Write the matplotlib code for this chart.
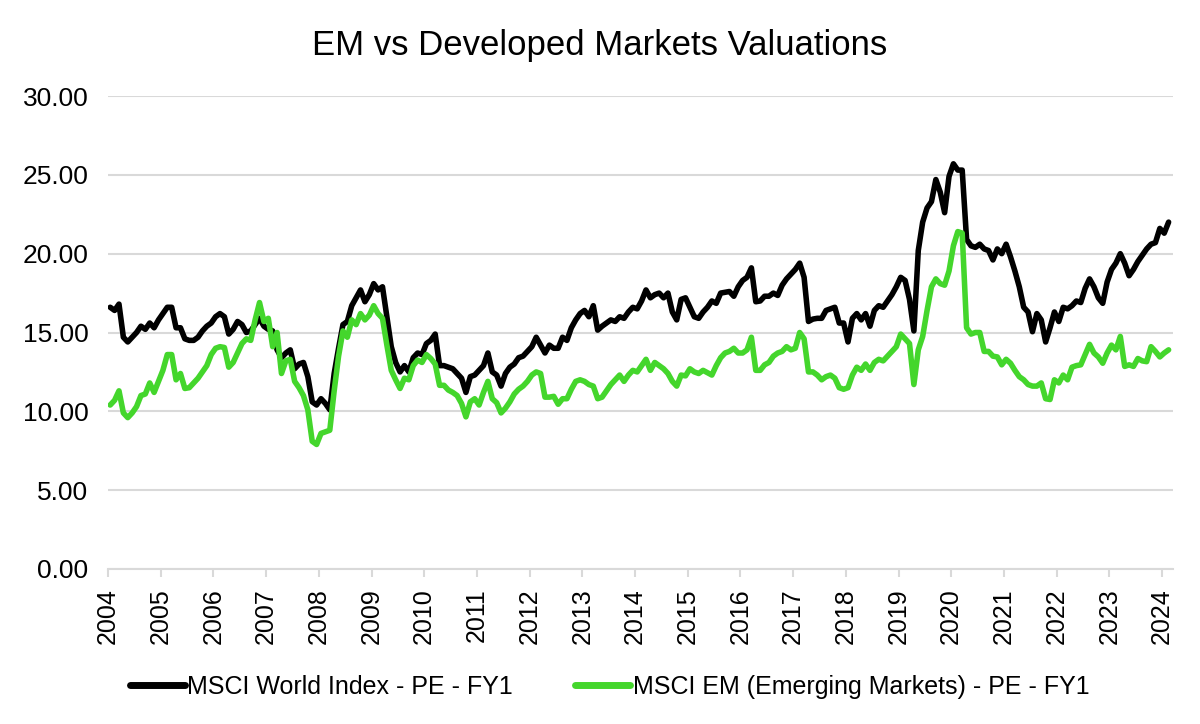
import matplotlib
matplotlib.use("Agg")
import matplotlib.pyplot as plt
import numpy as np

title = "EM vs Developed Markets Valuations"
series_names = ["MSCI World Index - PE - FY1", "MSCI EM (Emerging Markets) - PE - FY1"]
year_labels = [str(y) for y in range(2004, 2025)]
y_ticks = [0, 5, 10, 15, 20, 25, 30]

# Monthly values, Jan 2004 onward
world = [
    16.6, 16.4, 16.8, 14.7, 14.4, 14.7, 15.0, 15.4, 15.2, 15.6, 15.3, 15.8,
    16.2, 16.6, 16.6, 15.3, 15.3, 14.6, 14.5, 14.5, 14.7, 15.1, 15.4, 15.6,
    16.0, 16.2, 16.0, 14.9, 15.2, 15.7, 15.5, 15.0, 15.1, 15.5, 15.9, 15.4,
    15.2, 15.1, 13.9, 13.4, 13.7, 13.9, 12.7, 13.0, 13.1, 12.2, 10.6, 10.4,
    10.8, 10.5, 10.1, 12.4, 14.0, 15.5, 15.7, 16.7, 17.2, 17.7, 16.95, 17.4,
    18.1, 17.7, 17.9, 16.0, 14.1, 13.1, 12.5, 12.9, 12.5, 13.4, 13.7, 13.6,
    14.3, 14.5, 14.9, 12.9, 12.9, 12.8, 12.7, 12.4, 12.1, 11.2, 12.2, 12.3,
    12.6, 12.9, 13.7, 12.5, 12.3, 11.6, 12.4, 12.8, 13.0, 13.4, 13.5, 13.8,
    14.1, 14.7, 14.2, 13.7, 14.2, 14.0, 14.0, 14.7, 14.5, 15.3, 15.8, 16.2,
    16.4, 16.0, 16.7, 15.15, 15.4, 15.6, 15.8, 15.7, 16.0, 15.9, 16.3, 16.6,
    16.5, 17.0, 17.7, 17.2, 17.4, 17.5, 17.2, 17.5, 16.3, 15.8, 17.1, 17.2,
    16.6, 16.0, 15.9, 16.3, 16.6, 17.0, 16.85, 17.5, 17.55, 17.6, 17.3, 17.9,
    18.3, 18.5, 19.1, 16.95, 17.0, 17.3, 17.3, 17.5, 17.35, 18.0, 18.4, 18.7,
    19.0, 19.4, 18.5, 15.7, 15.85, 15.9, 15.9, 16.4, 16.5, 16.6, 15.6, 15.6,
    14.4, 15.9, 16.2, 15.8, 16.2, 15.4, 16.4, 16.7, 16.6, 17.0, 17.4, 17.9,
    18.5, 18.3, 17.1, 15.1, 20.2, 22.0, 22.9, 23.3, 24.7, 23.9, 22.6, 24.9,
    25.7, 25.3, 25.3, 20.9, 20.5, 20.4, 20.6, 20.3, 20.2, 19.6, 20.3, 20.0,
    20.6, 19.8, 18.9, 17.9, 16.6, 16.3, 15.05, 16.2, 15.8, 14.4, 15.3, 16.3,
    15.7, 16.6, 16.5, 16.7, 17.0, 16.9, 17.8, 18.4, 17.9, 17.2, 16.85, 18.2,
    19.0, 19.4, 20.0, 19.4, 18.6, 19.0, 19.5, 19.9, 20.3, 20.6, 20.7, 21.6,
    21.3, 22.0,
]

em = [
    10.4, 10.7, 11.3, 9.9, 9.6, 9.9, 10.3, 11.0, 11.1, 11.8, 11.2, 11.9,
    12.6, 13.6, 13.6, 12.0, 12.4, 11.45, 11.5, 11.8, 12.1, 12.5, 12.9, 13.6,
    14.0, 14.1, 14.05, 12.8, 13.1, 13.7, 14.3, 14.6, 14.5, 15.8, 16.9, 15.7,
    15.9, 14.1, 15.0, 12.4, 13.2, 13.3, 11.9, 11.5, 11.0, 10.1, 8.1, 7.9,
    8.6, 8.7, 8.8, 11.3, 13.5, 15.1, 14.7, 15.8, 15.5, 16.2, 15.8, 16.1,
    16.7, 16.2, 15.9, 14.2, 12.6, 12.0, 11.45, 12.1, 12.0, 12.9, 13.25, 13.1,
    13.6, 13.35, 13.0, 11.65, 11.65, 11.35, 11.2, 11.0, 10.5, 9.65, 10.6, 10.8,
    10.4, 11.2, 11.9, 10.8, 10.55, 9.9, 10.2, 10.6, 11.1, 11.4, 11.6, 11.9,
    12.3, 12.5, 12.4, 10.9, 10.9, 10.95, 10.45, 10.8, 10.8, 11.4, 11.9, 12.0,
    11.9, 11.7, 11.6, 10.8, 10.9, 11.3, 11.7, 12.0, 12.3, 11.9, 12.3, 12.6,
    12.5, 12.9, 13.3, 12.6, 13.1, 12.9, 12.7, 12.4, 11.9, 11.6, 12.3, 12.25,
    12.7, 12.5, 12.4, 12.6, 12.45, 12.3, 12.9, 13.4, 13.7, 13.8, 14.0, 13.7,
    13.7, 13.9, 14.7, 12.6, 12.6, 12.95, 13.1, 13.5, 13.7, 13.8, 14.1, 13.9,
    14.0, 15.0, 14.6, 12.5, 12.5, 12.3, 12.0, 12.2, 12.3, 12.1, 11.5, 11.4,
    11.5, 12.3, 12.8, 12.6, 13.0, 12.6, 13.1, 13.3, 13.2, 13.5, 13.8, 14.1,
    14.9, 14.6, 14.3, 11.7, 13.9, 14.75, 16.4, 17.9, 18.4, 18.1, 18.0, 18.9,
    20.5, 21.4, 21.3, 15.3, 14.9, 15.0, 15.0, 13.8, 13.8, 13.5, 13.45, 12.95,
    13.3, 13.05, 12.6, 12.2, 12.0, 11.7, 11.6, 11.6, 11.8, 10.8, 10.75, 12.0,
    11.8, 12.3, 12.0, 12.8, 12.9, 12.95, 13.6, 14.25, 13.7, 13.45, 13.05, 13.7,
    14.2, 13.9, 14.75, 12.85, 12.95, 12.85, 13.35, 13.2, 13.15, 14.1, 13.8, 13.45,
    13.7, 13.9,
]

black = "#000000"
green = "#44d62c"
grid_c = "#d9d9d9"

plt.rcParams['font.family'] = ['Liberation Sans Narrow', 'Liberation Sans', 'DejaVu Sans']

fig = plt.figure(figsize=(12, 7.24), dpi=100)
ax = fig.add_axes([108/1200, 155/724, (1173-108)/1200, (569-96)/724])

x = np.arange(len(world)) + 0.5
ax.plot(x, world, color=black, lw=4.0, solid_joinstyle='round', solid_capstyle='round',
        label=series_names[0], zorder=3)
ax.plot(np.arange(len(em)) + 0.5, em, color=green, lw=4.0, solid_joinstyle='round',
        solid_capstyle='round', label=series_names[1], zorder=3)

ax.set_ylim(0, 30)
ax.set_xlim(0, 242.5)
ax.set_yticks(y_ticks)
ax.set_yticklabels([f"{v:.2f}" for v in y_ticks], fontsize=19,
                   family=['Liberation Sans', 'DejaVu Sans'])
ax.set_xticks(np.arange(len(year_labels)) * 12)
ax.set_xticklabels(year_labels, rotation=90, fontsize=18,
                   family=['Liberation Sans', 'DejaVu Sans'])

ax.grid(axis='y', color=grid_c, lw=1.5, zorder=0)
ax.set_axisbelow(True)
for s in ['top', 'right', 'left']:
    ax.spines[s].set_visible(False)
ax.spines['bottom'].set_color(grid_c)
ax.spines['bottom'].set_linewidth(1.5)
ax.tick_params(axis='y', length=0, pad=14, colors='#000000')
ax.tick_params(axis='x', length=6, width=1.5, color=grid_c, pad=8)

fig.text(0.5, 1 - 46/724, title, ha='center', va='center', fontsize=25,
         family=['Liberation Sans', 'DejaVu Sans'])

leg = fig.legend(loc='center', bbox_to_anchor=(0.508, 1 - 687/724), ncol=2, frameon=False,
                 fontsize=18, handlelength=2.2, handletextpad=0.1, columnspacing=2.5)
for line in leg.get_lines():
    line.set_linewidth(5)

fig.savefig("out.png", dpi=100)
